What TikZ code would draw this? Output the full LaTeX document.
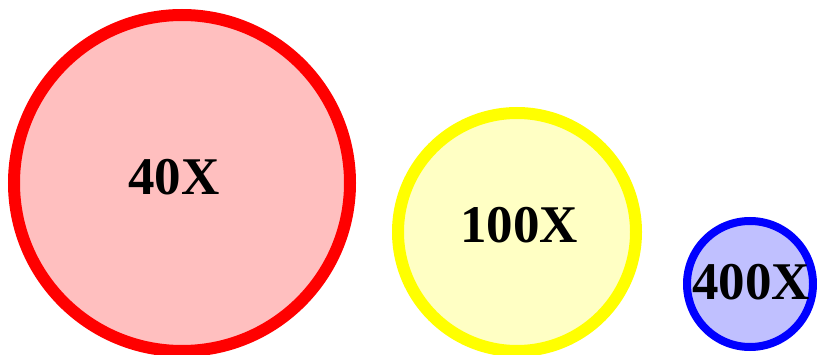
\documentclass[tikz,border=0pt]{standalone}
\usepackage{fontspec}
\setmainfont{Liberation Serif}
\usepackage{tikz}
\usetikzlibrary{positioning}
\definecolor{RedRim}{HTML}{FF0000}
\definecolor{RedSoft}{HTML}{FFBFBF}
\definecolor{YellowRim}{HTML}{FFFF00}
\definecolor{YellowSoft}{HTML}{FFFFC4}
\definecolor{BlueRim}{HTML}{0000FF}
\definecolor{BlueSoft}{HTML}{C0C0FF}
\tikzset{
  lens/.style={circle,inner sep=0pt},
  power/.style={inner sep=0pt,font=\fontsize{53}{60}\selectfont\bfseries},
  lowlens/.style={lens,draw=RedRim,fill=RedSoft,line width=12pt,minimum size=336pt},
  midlens/.style={lens,draw=YellowRim,fill=YellowSoft,line width=12pt,minimum size=238pt},
  highlens/.style={lens,draw=BlueRim,fill=BlueSoft,line width=8pt,minimum size=126pt}
}
\begin{document}
\begin{tikzpicture}[x=1pt,y=1pt]
        \useasboundingbox (0,0) rectangle (817,354);
        \clip (0,0) rectangle (817,354);
        \node[lowlens] (m40) at (182,171) {};
        \node[midlens] (m100) at (517,122) {};
        \node[highlens] (m400) at (750,70) {};
        \node[power] (t40) at ([xshift=-8pt,yshift=6pt]m40.center) {40X};
        \node[power] (t100) at ([xshift=2pt,yshift=7pt]m100.center) {100X};
        \node[power] (t400) at ([xshift=1pt,yshift=2pt]m400.center) {400X};
      \end{tikzpicture}
\end{document}
